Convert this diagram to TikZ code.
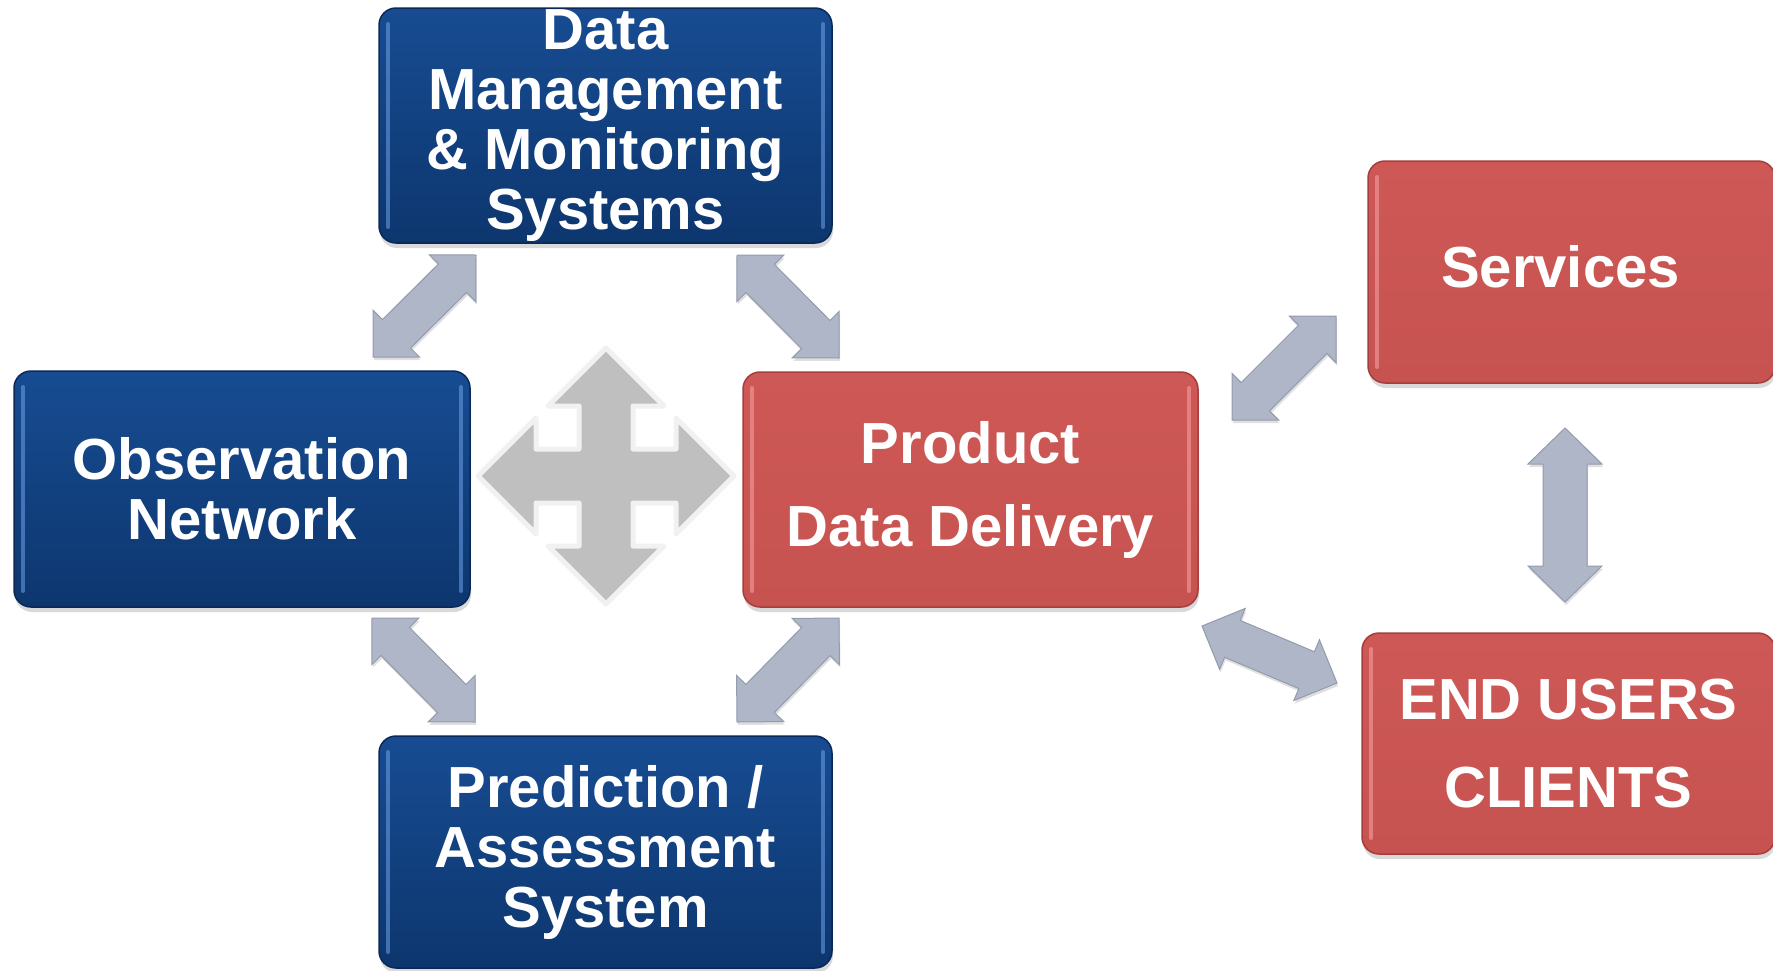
\documentclass[tikz,border=0pt]{standalone}
\usepackage{fontspec}
\setmainfont{Liberation Sans}
\usetikzlibrary{calc,shadows}
\definecolor{bluetop}{RGB}{23,76,146}
\definecolor{bluebot}{RGB}{13,54,110}
\definecolor{blueedge}{RGB}{10,40,88}
\definecolor{bluehl}{RGB}{110,160,230}
\definecolor{redtop}{RGB}{205,88,85}
\definecolor{redbot}{RGB}{199,83,80}
\definecolor{rededge}{RGB}{165,62,60}
\definecolor{redhl}{RGB}{248,165,165}
\definecolor{arrowfill}{RGB}{175,182,199}
\definecolor{arrowedge}{RGB}{148,155,173}
\definecolor{crossfill}{RGB}{191,191,191}
\definecolor{crossedge}{RGB}{241,241,241}
\newcommand\dblarrow[5]{%
  \filldraw[blockarr] (#1)
    -- ($($(#1)!#3!(#2)$)!#4!90:(#2)$)
    -- ($($(#1)!#3!(#2)$)!#5!90:(#2)$)
    -- ($($(#2)!#3!(#1)$)!#5!-90:(#1)$)
    -- ($($(#2)!#3!(#1)$)!#4!-90:(#1)$)
    -- (#2)
    -- ($($(#2)!#3!(#1)$)!#4!90:(#1)$)
    -- ($($(#2)!#3!(#1)$)!#5!90:(#1)$)
    -- ($($(#1)!#3!(#2)$)!#5!-90:(#2)$)
    -- ($($(#1)!#3!(#2)$)!#4!-90:(#2)$)
    -- cycle;}
\begin{document}
\begin{tikzpicture}[x=1pt,y=-1pt,
  box/.style={rounded corners=17pt, draw, line width=1.5pt, inner sep=0pt, outer sep=0pt,
    align=center, text=white, font=\fontsize{58}{60}\selectfont\bfseries,
    drop shadow={shadow xshift=1pt, shadow yshift=-5pt, opacity=0.3}},
  bluebox/.style={box, draw=blueedge, top color=bluetop, bottom color=bluebot},
  redbox/.style={box, draw=rededge, top color=redtop, bottom color=redbot},
  bluehlline/.style={draw=bluehl, line width=4pt, line cap=round, opacity=0.55},
  redhlline/.style={draw=redhl, line width=4pt, line cap=round, opacity=0.55},
  blockarr/.style={fill=arrowfill, draw=arrowedge, line width=1pt, line join=miter,
    drop shadow={shadow xshift=1pt, shadow yshift=-3pt, opacity=0.25}},
  crossshape/.style={fill=crossfill, draw=crossedge, line width=5pt, line join=round}]
\useasboundingbox (0,0) rectangle (1773,970);

% boxes
\node[bluebox, minimum width=453pt, minimum height=235pt] (dm) at (605.5,125.5)
  {Data\\Management\\\& Monitoring\\Systems};
\node[bluebox, minimum width=456pt, minimum height=236pt] (obs) at (242,489)
  {Observation\\Network};
\node[redbox, minimum width=455pt, minimum height=235pt] (pdd) at (970.5,489.5)
  {Product\\[23pt]Data Delivery};
\node[bluebox, minimum width=453pt, minimum height=232pt] (pa) at (605.5,852)
  {Prediction /\\Assessment\\System};
\node[redbox, minimum width=407pt, minimum height=222pt, text depth=12pt] (serv) at (1571.5,272)
  {Services\hspace{22pt}};
\node[redbox, minimum width=413pt, minimum height=221pt] (eu) at (1568.5,743.5)
  {END USERS\\[28pt]CLIENTS\hspace{0pt}};

% glossy side highlights
\foreach \n in {dm,obs,pa}{
  \draw[bluehlline] ([xshift=9pt,yshift=-16pt]\n.north west) -- ([xshift=9pt,yshift=16pt]\n.south west);
  \draw[bluehlline] ([xshift=-9pt,yshift=-16pt]\n.north east) -- ([xshift=-9pt,yshift=16pt]\n.south east);
}
\foreach \n in {pdd,serv,eu}{
  \draw[redhlline] ([xshift=9pt,yshift=-16pt]\n.north west) -- ([xshift=9pt,yshift=16pt]\n.south west);
}
\draw[redhlline] ([xshift=-9pt,yshift=-16pt]pdd.north east) -- ([xshift=-9pt,yshift=16pt]pdd.south east);

% centre four-way arrow
\draw[crossshape] (606,348) -- (664,406) -- (633,406) -- (633,449) -- (676,449) -- (676,418)
  -- (734,476) -- (676,534) -- (676,503) -- (633,503) -- (633,546) -- (664,546)
  -- (606,604) -- (548,546) -- (579,546) -- (579,503) -- (536,503) -- (536,534)
  -- (478,476) -- (536,418) -- (536,449) -- (579,449) -- (579,406) -- (548,406) -- cycle;

% block arrows
\coordinate (a1s) at (476,255);  \coordinate (a1e) at (373,357);
\coordinate (a2s) at (737,255);  \coordinate (a2e) at (839,358);
\coordinate (a3s) at (372,618);  \coordinate (a3e) at (475,722);
\coordinate (a4s) at (839,618);  \coordinate (a4e) at (737,722);
\coordinate (a5s) at (1232,420); \coordinate (a5e) at (1336,316);
\coordinate (a6s) at (1202,626); \coordinate (a6e) at (1337,683);
\coordinate (a7s) at (1565,428); \coordinate (a7e) at (1565,602);
\dblarrow{a1s}{a1e}{33pt}{33pt}{20pt}
\dblarrow{a2s}{a2e}{33pt}{33pt}{20pt}
\dblarrow{a3s}{a3e}{33pt}{33pt}{20pt}
\dblarrow{a4s}{a4e}{33pt}{33pt}{20pt}
\dblarrow{a5s}{a5e}{33pt}{33pt}{20pt}
\dblarrow{a6s}{a6e}{33pt}{33pt}{20pt}
\dblarrow{a7s}{a7e}{36pt}{37pt}{22pt}
\end{tikzpicture}
\end{document}
